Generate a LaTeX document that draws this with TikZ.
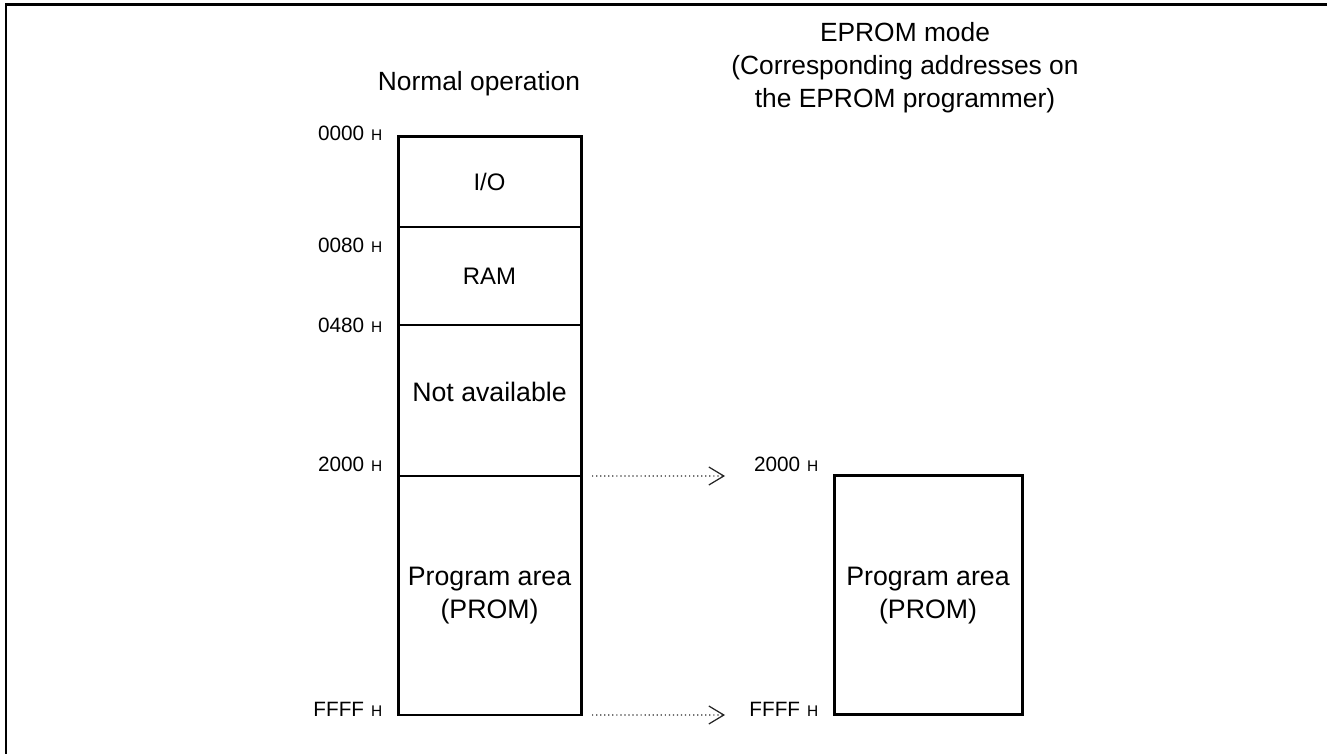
\documentclass[tikz,border=0pt]{standalone}
\usepackage{fontspec}
\setmainfont{Liberation Sans}
\usetikzlibrary{arrows.meta}
\newcommand{\adr}[1]{{\fontsize{5.9}{7}\selectfont #1}\hspace{0.7mm}{\fontsize{4.4}{5}\selectfont H}}
\tikzset{
	every cell/.style={
		draw,
		line width=0.4pt,
		minimum width=18.3mm,
		inner sep=0pt,
		outer sep=0pt,
		align=center,
		font=\fontsize{7.6}{9.4}\selectfont
	},
	cell io/.style={font=\fontsize{6.8}{8}\selectfont},
	cell ram/.style={font=\fontsize{6.8}{8}\selectfont},
	cell na/.style={text depth=1.8mm},
	border/.style={line width=0.85pt, line join=miter},
	address/.style={anchor=base east, inner sep=0pt},
	heading/.style={align=center, font=\fontsize{7.5}{9.4}\selectfont},
	map arrow/.style={
		->,
		line width=0.35pt,
		black!85,
		dash pattern=on 0.35pt off 0.8pt,
		shorten <=1.1mm,
		shorten >=10.9mm
	},
}
\begin{document}
\begin{tikzpicture}[x=0.1mm, y=-0.1mm, >={Straight Barb[length=1.5mm, width=1.8mm]}]

\useasboundingbox (0,0) rectangle (1327,754);
\draw [border] (6,754) -- (6,5) -- (1327,5);

\foreach \m/\l/\c/\h in {io/{I/O}/182/90, ram/RAM/276/98, na/Not available/400.5/151, prom/{Program area\\(PROM)}/595.5/239}
	\node [every cell/.try, cell \m/.try, minimum height=\h*0.1mm] (\m) at (489.5,\c) {\l};
\draw [border] (io.north west) rectangle (prom.south east);

\node [every cell/.try, border, minimum width=18.8mm, minimum height=23.9mm] (eprom) at (928,595.5)
	{Program area\\(PROM)};

\foreach \a/\y in {0000/141, 0080/253, 0480/333, 2000/472, FFFF/717}
	\node [address] (adr-\a) at (383,\y) {\adr{\a}};

\foreach \a/\y in {2000/472, FFFF/717}
	\node [address] (padr-\a) at (819,\y) {\adr{\a}};

\draw [map arrow] (prom.north east) -- (eprom.north west);
\draw [map arrow] (prom.south east) -- (eprom.south west);

\node [heading] (normal) at (479,84) {Normal operation};
\node [heading] (eprom-mode) at (905,68)
	{EPROM mode\\(Corresponding addresses on\\the EPROM programmer)};

\end{tikzpicture}
\end{document}
